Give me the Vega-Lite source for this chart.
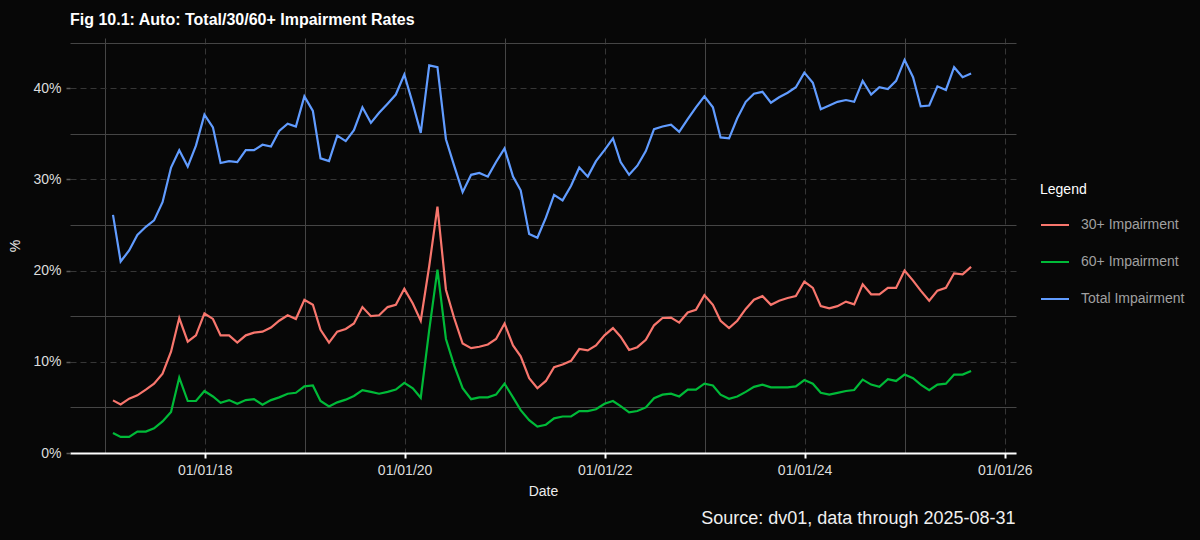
{
  "$schema": "https://vega.github.io/schema/vega-lite/v6.json",
  "background": "#070707",
  "autosize": "none",
  "width": 946,
  "height": 415,
  "padding": {"left": 70, "top": 38, "right": 184, "bottom": 87},
  "title": {
    "text": "Fig 10.1: Auto: Total/30/60+ Impairment Rates",
    "anchor": "start",
    "frame": "group",
    "font": "Liberation Sans",
    "fontSize": 16,
    "fontWeight": "bold",
    "color": "#ffffff",
    "offset": 10
  },
  "config": {
    "font": "Liberation Sans",
    "view": {"stroke": null},
    "axis": {
      "labelFont": "Liberation Sans",
      "labelFontSize": 14,
      "labelColor": "#dcdcdc",
      "titleFont": "Liberation Sans",
      "titleFontSize": 14,
      "titleFontWeight": "normal",
      "titleColor": "#ececec",
      "gridWidth": 1
    },
    "legend": {
      "titleFont": "Liberation Sans",
      "titleFontSize": 14,
      "titleFontWeight": "normal",
      "titleColor": "#ffffff",
      "titlePadding": 13,
      "labelFont": "Liberation Sans",
      "labelFontSize": 14,
      "labelColor": "#a0a0a0",
      "labelOffset": 11,
      "symbolType": "stroke",
      "symbolSize": 784,
      "symbolStrokeWidth": 2,
      "rowPadding": 15
    }
  },
  "data": {"values": [
    {"date": "2017-01-31", "30+ Impairment": 5.77, "60+ Impairment": 2.2, "Total Impairment": 26.1},
    {"date": "2017-02-28", "30+ Impairment": 5.33, "60+ Impairment": 1.76, "Total Impairment": 21.0},
    {"date": "2017-03-31", "30+ Impairment": 5.96, "60+ Impairment": 1.76, "Total Impairment": 22.2},
    {"date": "2017-04-30", "30+ Impairment": 6.32, "60+ Impairment": 2.35, "Total Impairment": 23.9},
    {"date": "2017-05-31", "30+ Impairment": 6.95, "60+ Impairment": 2.35, "Total Impairment": 24.8},
    {"date": "2017-06-30", "30+ Impairment": 7.6, "60+ Impairment": 2.7, "Total Impairment": 25.5},
    {"date": "2017-07-31", "30+ Impairment": 8.7, "60+ Impairment": 3.46, "Total Impairment": 27.5},
    {"date": "2017-08-31", "30+ Impairment": 11.1, "60+ Impairment": 4.5, "Total Impairment": 31.3},
    {"date": "2017-09-30", "30+ Impairment": 14.8, "60+ Impairment": 8.27, "Total Impairment": 33.2},
    {"date": "2017-10-31", "30+ Impairment": 12.2, "60+ Impairment": 5.7, "Total Impairment": 31.4},
    {"date": "2017-11-30", "30+ Impairment": 12.9, "60+ Impairment": 5.7, "Total Impairment": 33.7},
    {"date": "2017-12-31", "30+ Impairment": 15.3, "60+ Impairment": 6.8, "Total Impairment": 37.1},
    {"date": "2018-01-31", "30+ Impairment": 14.7, "60+ Impairment": 6.2, "Total Impairment": 35.7},
    {"date": "2018-02-28", "30+ Impairment": 12.9, "60+ Impairment": 5.5, "Total Impairment": 31.8},
    {"date": "2018-03-31", "30+ Impairment": 12.9, "60+ Impairment": 5.8, "Total Impairment": 32.0},
    {"date": "2018-04-30", "30+ Impairment": 12.1, "60+ Impairment": 5.4, "Total Impairment": 31.9},
    {"date": "2018-05-31", "30+ Impairment": 12.9, "60+ Impairment": 5.8, "Total Impairment": 33.2},
    {"date": "2018-06-30", "30+ Impairment": 13.2, "60+ Impairment": 5.9, "Total Impairment": 33.2},
    {"date": "2018-07-31", "30+ Impairment": 13.3, "60+ Impairment": 5.3, "Total Impairment": 33.8},
    {"date": "2018-08-31", "30+ Impairment": 13.75, "60+ Impairment": 5.8, "Total Impairment": 33.6},
    {"date": "2018-09-30", "30+ Impairment": 14.5, "60+ Impairment": 6.1, "Total Impairment": 35.3},
    {"date": "2018-10-31", "30+ Impairment": 15.1, "60+ Impairment": 6.5, "Total Impairment": 36.1},
    {"date": "2018-11-30", "30+ Impairment": 14.7, "60+ Impairment": 6.6, "Total Impairment": 35.8},
    {"date": "2018-12-31", "30+ Impairment": 16.8, "60+ Impairment": 7.3, "Total Impairment": 39.1},
    {"date": "2019-01-31", "30+ Impairment": 16.25, "60+ Impairment": 7.4, "Total Impairment": 37.5},
    {"date": "2019-02-28", "30+ Impairment": 13.5, "60+ Impairment": 5.7, "Total Impairment": 32.3},
    {"date": "2019-03-31", "30+ Impairment": 12.1, "60+ Impairment": 5.1, "Total Impairment": 32.0},
    {"date": "2019-04-30", "30+ Impairment": 13.3, "60+ Impairment": 5.55, "Total Impairment": 34.8},
    {"date": "2019-05-31", "30+ Impairment": 13.6, "60+ Impairment": 5.85, "Total Impairment": 34.2},
    {"date": "2019-06-30", "30+ Impairment": 14.2, "60+ Impairment": 6.25, "Total Impairment": 35.4},
    {"date": "2019-07-31", "30+ Impairment": 16.0, "60+ Impairment": 6.9, "Total Impairment": 37.9},
    {"date": "2019-08-31", "30+ Impairment": 15.0, "60+ Impairment": 6.7, "Total Impairment": 36.2},
    {"date": "2019-09-30", "30+ Impairment": 15.1, "60+ Impairment": 6.5, "Total Impairment": 37.3},
    {"date": "2019-10-31", "30+ Impairment": 16.0, "60+ Impairment": 6.7, "Total Impairment": 38.3},
    {"date": "2019-11-30", "30+ Impairment": 16.25, "60+ Impairment": 6.95, "Total Impairment": 39.3},
    {"date": "2019-12-31", "30+ Impairment": 18.0, "60+ Impairment": 7.7, "Total Impairment": 41.5},
    {"date": "2020-01-31", "30+ Impairment": 16.4, "60+ Impairment": 7.1, "Total Impairment": 38.3},
    {"date": "2020-02-29", "30+ Impairment": 14.5, "60+ Impairment": 6.05, "Total Impairment": 35.1},
    {"date": "2020-03-31", "30+ Impairment": 20.5, "60+ Impairment": 13.5, "Total Impairment": 42.5},
    {"date": "2020-04-30", "30+ Impairment": 27.0, "60+ Impairment": 20.1, "Total Impairment": 42.3},
    {"date": "2020-05-31", "30+ Impairment": 17.9, "60+ Impairment": 12.5, "Total Impairment": 34.4},
    {"date": "2020-06-30", "30+ Impairment": 14.8, "60+ Impairment": 9.6, "Total Impairment": 31.5},
    {"date": "2020-07-31", "30+ Impairment": 12.0, "60+ Impairment": 7.1, "Total Impairment": 28.6},
    {"date": "2020-08-31", "30+ Impairment": 11.5, "60+ Impairment": 5.9, "Total Impairment": 30.5},
    {"date": "2020-09-30", "30+ Impairment": 11.65, "60+ Impairment": 6.1, "Total Impairment": 30.7},
    {"date": "2020-10-31", "30+ Impairment": 11.9, "60+ Impairment": 6.1, "Total Impairment": 30.3},
    {"date": "2020-11-30", "30+ Impairment": 12.5, "60+ Impairment": 6.4, "Total Impairment": 31.9},
    {"date": "2020-12-31", "30+ Impairment": 14.2, "60+ Impairment": 7.6, "Total Impairment": 33.4},
    {"date": "2021-01-31", "30+ Impairment": 11.8, "60+ Impairment": 6.1, "Total Impairment": 30.3},
    {"date": "2021-02-28", "30+ Impairment": 10.6, "60+ Impairment": 4.7, "Total Impairment": 28.8},
    {"date": "2021-03-31", "30+ Impairment": 8.2, "60+ Impairment": 3.6, "Total Impairment": 24.0},
    {"date": "2021-04-30", "30+ Impairment": 7.1, "60+ Impairment": 2.9, "Total Impairment": 23.6},
    {"date": "2021-05-31", "30+ Impairment": 7.9, "60+ Impairment": 3.1, "Total Impairment": 25.8},
    {"date": "2021-06-30", "30+ Impairment": 9.4, "60+ Impairment": 3.8, "Total Impairment": 28.3},
    {"date": "2021-07-31", "30+ Impairment": 9.7, "60+ Impairment": 4.0, "Total Impairment": 27.7},
    {"date": "2021-08-31", "30+ Impairment": 10.1, "60+ Impairment": 4.0, "Total Impairment": 29.3},
    {"date": "2021-09-30", "30+ Impairment": 11.4, "60+ Impairment": 4.6, "Total Impairment": 31.3},
    {"date": "2021-10-31", "30+ Impairment": 11.25, "60+ Impairment": 4.6, "Total Impairment": 30.3},
    {"date": "2021-11-30", "30+ Impairment": 11.8, "60+ Impairment": 4.8, "Total Impairment": 32.0},
    {"date": "2021-12-31", "30+ Impairment": 12.9, "60+ Impairment": 5.4, "Total Impairment": 33.2},
    {"date": "2022-01-31", "30+ Impairment": 13.7, "60+ Impairment": 5.7, "Total Impairment": 34.5},
    {"date": "2022-02-28", "30+ Impairment": 12.75, "60+ Impairment": 5.15, "Total Impairment": 31.9},
    {"date": "2022-03-31", "30+ Impairment": 11.3, "60+ Impairment": 4.45, "Total Impairment": 30.5},
    {"date": "2022-04-30", "30+ Impairment": 11.6, "60+ Impairment": 4.6, "Total Impairment": 31.5},
    {"date": "2022-05-31", "30+ Impairment": 12.4, "60+ Impairment": 5.0, "Total Impairment": 33.1},
    {"date": "2022-06-30", "30+ Impairment": 14.0, "60+ Impairment": 6.0, "Total Impairment": 35.5},
    {"date": "2022-07-31", "30+ Impairment": 14.8, "60+ Impairment": 6.4, "Total Impairment": 35.8},
    {"date": "2022-08-31", "30+ Impairment": 14.85, "60+ Impairment": 6.5, "Total Impairment": 36.0},
    {"date": "2022-09-30", "30+ Impairment": 14.3, "60+ Impairment": 6.2, "Total Impairment": 35.2},
    {"date": "2022-10-31", "30+ Impairment": 15.4, "60+ Impairment": 6.95, "Total Impairment": 36.6},
    {"date": "2022-11-30", "30+ Impairment": 15.7, "60+ Impairment": 6.95, "Total Impairment": 37.9},
    {"date": "2022-12-31", "30+ Impairment": 17.3, "60+ Impairment": 7.6, "Total Impairment": 39.1},
    {"date": "2023-01-31", "30+ Impairment": 16.25, "60+ Impairment": 7.4, "Total Impairment": 37.9},
    {"date": "2023-02-28", "30+ Impairment": 14.5, "60+ Impairment": 6.4, "Total Impairment": 34.6},
    {"date": "2023-03-31", "30+ Impairment": 13.7, "60+ Impairment": 5.95, "Total Impairment": 34.5},
    {"date": "2023-04-30", "30+ Impairment": 14.5, "60+ Impairment": 6.2, "Total Impairment": 36.7},
    {"date": "2023-05-31", "30+ Impairment": 15.8, "60+ Impairment": 6.7, "Total Impairment": 38.5},
    {"date": "2023-06-30", "30+ Impairment": 16.8, "60+ Impairment": 7.25, "Total Impairment": 39.4},
    {"date": "2023-07-31", "30+ Impairment": 17.2, "60+ Impairment": 7.5, "Total Impairment": 39.6},
    {"date": "2023-08-31", "30+ Impairment": 16.25, "60+ Impairment": 7.2, "Total Impairment": 38.4},
    {"date": "2023-09-30", "30+ Impairment": 16.7, "60+ Impairment": 7.2, "Total Impairment": 39.0},
    {"date": "2023-10-31", "30+ Impairment": 17.0, "60+ Impairment": 7.2, "Total Impairment": 39.5},
    {"date": "2023-11-30", "30+ Impairment": 17.2, "60+ Impairment": 7.3, "Total Impairment": 40.1},
    {"date": "2023-12-31", "30+ Impairment": 18.8, "60+ Impairment": 8.0, "Total Impairment": 41.7},
    {"date": "2024-01-31", "30+ Impairment": 18.1, "60+ Impairment": 7.6, "Total Impairment": 40.6},
    {"date": "2024-02-29", "30+ Impairment": 16.1, "60+ Impairment": 6.6, "Total Impairment": 37.7},
    {"date": "2024-03-31", "30+ Impairment": 15.85, "60+ Impairment": 6.4, "Total Impairment": 38.1},
    {"date": "2024-04-30", "30+ Impairment": 16.1, "60+ Impairment": 6.6, "Total Impairment": 38.5},
    {"date": "2024-05-31", "30+ Impairment": 16.6, "60+ Impairment": 6.8, "Total Impairment": 38.7},
    {"date": "2024-06-30", "30+ Impairment": 16.3, "60+ Impairment": 6.9, "Total Impairment": 38.5},
    {"date": "2024-07-31", "30+ Impairment": 18.5, "60+ Impairment": 8.05, "Total Impairment": 40.8},
    {"date": "2024-08-31", "30+ Impairment": 17.4, "60+ Impairment": 7.5, "Total Impairment": 39.3},
    {"date": "2024-09-30", "30+ Impairment": 17.4, "60+ Impairment": 7.25, "Total Impairment": 40.1},
    {"date": "2024-10-31", "30+ Impairment": 18.1, "60+ Impairment": 8.1, "Total Impairment": 39.9},
    {"date": "2024-11-30", "30+ Impairment": 18.1, "60+ Impairment": 7.9, "Total Impairment": 40.8},
    {"date": "2024-12-31", "30+ Impairment": 20.0, "60+ Impairment": 8.6, "Total Impairment": 43.1},
    {"date": "2025-01-31", "30+ Impairment": 18.9, "60+ Impairment": 8.2, "Total Impairment": 41.2},
    {"date": "2025-02-28", "30+ Impairment": 17.8, "60+ Impairment": 7.5, "Total Impairment": 38.0},
    {"date": "2025-03-31", "30+ Impairment": 16.7, "60+ Impairment": 6.9, "Total Impairment": 38.1},
    {"date": "2025-04-30", "30+ Impairment": 17.8, "60+ Impairment": 7.5, "Total Impairment": 40.2},
    {"date": "2025-05-31", "30+ Impairment": 18.1, "60+ Impairment": 7.6, "Total Impairment": 39.8},
    {"date": "2025-06-30", "30+ Impairment": 19.7, "60+ Impairment": 8.6, "Total Impairment": 42.3},
    {"date": "2025-07-31", "30+ Impairment": 19.6, "60+ Impairment": 8.6, "Total Impairment": 41.2},
    {"date": "2025-08-31", "30+ Impairment": 20.4, "60+ Impairment": 9.0, "Total Impairment": 41.6}
  ]},
  "transform": [
    {"fold": ["30+ Impairment", "60+ Impairment", "Total Impairment"], "as": ["series", "value"]}
  ],
  "layer": [
    {
      "mark": {"type": "line", "strokeWidth": 2.2, "interpolate": "linear"},
      "encoding": {
        "x": {
          "field": "date",
          "type": "temporal",
          "title": "Date",
          "scale": {
            "domain": [{"year": 2016, "month": 8, "date": 27}, {"year": 2026, "month": 2, "date": 11}],
            "nice": false
          },
          "axis": {
            "orient": "bottom",
            "values": [
              {"year": 2017, "month": 1, "date": 1}, {"year": 2018, "month": 1, "date": 1},
              {"year": 2019, "month": 1, "date": 1}, {"year": 2020, "month": 1, "date": 1},
              {"year": 2021, "month": 1, "date": 1}, {"year": 2022, "month": 1, "date": 1},
              {"year": 2023, "month": 1, "date": 1}, {"year": 2024, "month": 1, "date": 1},
              {"year": 2025, "month": 1, "date": 1}, {"year": 2026, "month": 1, "date": 1}
            ],
            "labelExpr": "year(datum.value) % 2 == 0 ? timeFormat(datum.value, '%m/%d/%y') : ''",
            "labelPadding": 5,
            "labelFlush": false,
            "labelOverlap": false,
            "grid": true,
            "gridColor": {"condition": {"test": "year(datum.value) % 2 == 0", "value": "#363636"}, "value": "#454545"},
            "gridDash": {"condition": {"test": "year(datum.value) % 2 == 0", "value": [6, 4]}, "value": []},
            "domain": true,
            "domainColor": "#ffffff",
            "domainWidth": 2,
            "ticks": true,
            "tickColor": "#ffffff",
            "tickWidth": 2,
            "tickSize": 5,
            "tickOpacity": {"condition": {"test": "year(datum.value) % 2 == 0", "value": 1}, "value": 0},
            "titlePadding": 7
          }
        },
        "y": {
          "field": "value",
          "type": "quantitative",
          "title": "%",
          "scale": {"domain": [0, 45.5], "nice": false, "zero": false},
          "axis": {
            "values": [0, 5, 10, 15, 20, 25, 30, 35, 40, 45],
            "labelExpr": "datum.value % 10 == 0 ? datum.value + '%' : ''",
            "labelPadding": 5,
            "grid": true,
            "gridColor": {"condition": {"test": "datum.value % 10 == 0", "value": "#363636"}, "value": "#454545"},
            "gridDash": {"condition": {"test": "datum.value % 10 == 0", "value": [6, 4]}, "value": []},
            "domain": false,
            "tickColor": "#5a5a5a",
            "tickWidth": 1.5,
            "tickSize": 4,
            "tickOpacity": {"condition": {"test": "datum.value % 10 == 0", "value": 1}, "value": 0},
            "titlePadding": 10
          }
        },
        "color": {
          "field": "series",
          "type": "nominal",
          "title": "Legend",
          "scale": {
            "domain": ["30+ Impairment", "60+ Impairment", "Total Impairment"],
            "range": ["#F8766D", "#00BA38", "#619CFF"]
          },
          "legend": {"orient": "none", "legendX": 970, "legendY": 145}
        }
      }
    },
    {
      "mark": {"type": "line", "strokeOpacity": 0},
      "encoding": {
        "x": {
          "field": "date",
          "type": "temporal",
          "axis": {
            "orient": "bottom",
            "title": "Source: dv01, data through 2025-08-31",
            "titleFontSize": 18,
            "titleColor": "#f0f0f0",
            "titleX": 945,
            "titleY": 70,
            "titleAlign": "right",
            "titleAnchor": "end",
            "titleBaseline": "alphabetic",
            "labels": false,
            "ticks": false,
            "domain": false,
            "grid": false
          }
        },
        "y": {"field": "value", "type": "quantitative"},
        "detail": {"field": "series"}
      }
    }
  ],
  "resolve": {"axis": {"x": "independent"}}
}
